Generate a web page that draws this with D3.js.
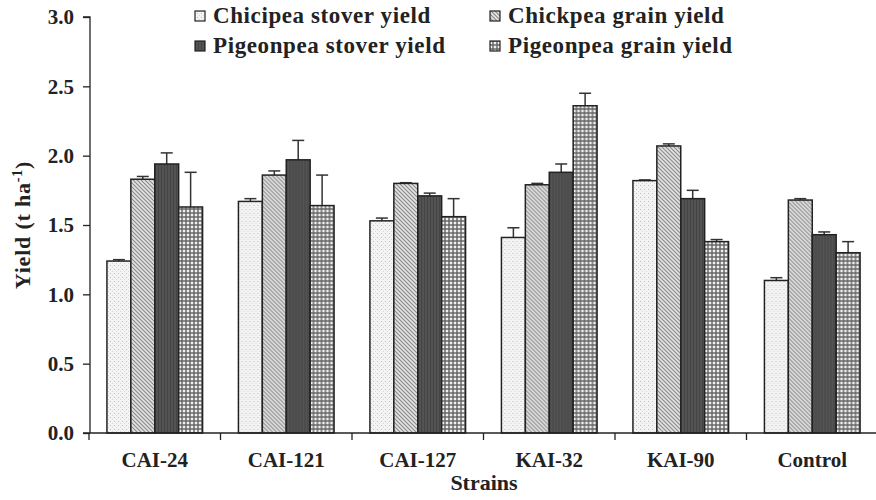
<!DOCTYPE html>
<html>
<head>
<meta charset="utf-8">
<script src="https://cdn.jsdelivr.net/npm/d3@7"></script>
<style>
  body { margin: 0; background: #fff; }
  text { font-family: "Liberation Serif", "Times New Roman", serif; font-weight: bold; fill: #222; }
</style>
</head>
<body>
<div id="chart"></div>
<script>
const strains = ["CAI-24", "CAI-121", "CAI-127", "KAI-32", "KAI-90", "Control"];
const seriesNames = ["Chicipea stover yield", "Chickpea grain yield", "Pigeonpea stover yield", "Pigeonpea grain yield"];
const chickpeaStover = [1.24, 1.67, 1.53, 1.41, 1.82, 1.10];
const chickpeaGrain = [1.83, 1.86, 1.80, 1.79, 2.07, 1.68];
const pigeonpeaStover = [1.94, 1.97, 1.71, 1.88, 1.69, 1.43];
const pigeonpeaGrain = [1.63, 1.64, 1.56, 2.36, 1.38, 1.30];
const errChickpeaStover = [0.01, 0.02, 0.02, 0.07, 0.005, 0.02];
const errChickpeaGrain = [0.02, 0.03, 0.005, 0.01, 0.015, 0.01];
const errPigeonpeaStover = [0.08, 0.14, 0.02, 0.06, 0.06, 0.02];
const errPigeonpeaGrain = [0.25, 0.22, 0.13, 0.09, 0.015, 0.08];
const yTicks = [0, 0.5, 1.0, 1.5, 2.0, 2.5, 3.0];

const values = [chickpeaStover, chickpeaGrain, pigeonpeaStover, pigeonpeaGrain];
const errors = [errChickpeaStover, errChickpeaGrain, errPigeonpeaStover, errPigeonpeaGrain];

const w = 876, h = 500;
const m = {top: 17, right: 0, bottom: 67, left: 90};

const svg = d3.select("#chart").append("svg")
  .attr("width", w).attr("height", h);

// fill patterns
const defs = svg.append("defs");
const pDots = defs.append("pattern").attr("id", "p0")
  .attr("width", 4).attr("height", 4).attr("patternUnits", "userSpaceOnUse");
pDots.append("rect").attr("width", 4).attr("height", 4).attr("fill", "#f4f4f4");
pDots.append("rect").attr("x", 1).attr("y", 1).attr("width", 1).attr("height", 1).attr("fill", "#bcbcbc");
pDots.append("rect").attr("x", 3).attr("y", 3).attr("width", 1).attr("height", 1).attr("fill", "#d6d6d6");

const pDiag = defs.append("pattern").attr("id", "p1")
  .attr("width", 4).attr("height", 4).attr("patternUnits", "userSpaceOnUse");
pDiag.append("rect").attr("width", 4).attr("height", 4).attr("fill", "#e2e2e2");
pDiag.append("path").attr("d", "M-1,-1 L5,5 M-1,3 L1,5 M3,-1 L5,1")
  .attr("stroke", "#8a8a8a").attr("stroke-width", 1.1);

const pDark = defs.append("pattern").attr("id", "p2")
  .attr("width", 3).attr("height", 3).attr("patternUnits", "userSpaceOnUse");
pDark.append("rect").attr("width", 3).attr("height", 3).attr("fill", "#535353");
pDark.append("rect").attr("x", 0).attr("y", 0).attr("width", 1).attr("height", 3).attr("fill", "#444");

const pGrid = defs.append("pattern").attr("id", "p3")
  .attr("width", 4).attr("height", 4).attr("patternUnits", "userSpaceOnUse");
pGrid.append("rect").attr("width", 4).attr("height", 4).attr("fill", "#f0f0f0");
pGrid.append("rect").attr("x", 0).attr("y", 0).attr("width", 2).attr("height", 4).attr("fill", "#8c8c8c");
pGrid.append("rect").attr("x", 0).attr("y", 0).attr("width", 4).attr("height", 2).attr("fill", "#8c8c8c");
pGrid.append("rect").attr("x", 0).attr("y", 0).attr("width", 2).attr("height", 2).attr("fill", "#6e6e6e");

const x0 = d3.scaleBand().domain(strains).range([m.left - 1, w - m.right + 2]).paddingInner(0);
const x1 = d3.scaleBand().domain(d3.range(4)).range([0, x0.bandwidth()]).paddingOuter(0.75).paddingInner(0);
const y = d3.scaleLinear().domain([0, 3]).range([h - m.bottom, m.top]);

// bars
const groups = svg.append("g").selectAll("g").data(strains).join("g")
  .attr("transform", d => `translate(${x0(d)},0)`);

groups.each(function(s, i) {
  const g = d3.select(this);
  d3.range(4).forEach(k => {
    const v = values[k][i], e = errors[k][i];
    const cx = x1(k) + x1.bandwidth() / 2;
    g.append("line")
      .attr("x1", cx).attr("x2", cx)
      .attr("y1", y(v)).attr("y2", y(v + e))
      .attr("stroke", "#333").attr("stroke-width", 1.5);
    g.append("line")
      .attr("x1", cx - 6).attr("x2", cx + 6)
      .attr("y1", y(v + e)).attr("y2", y(v + e))
      .attr("stroke", "#333").attr("stroke-width", 1.5);
    g.append("rect")
      .attr("x", x1(k)).attr("y", y(v))
      .attr("width", x1.bandwidth()).attr("height", y(0) - y(v))
      .attr("fill", `url(#p${k})`)
      .attr("stroke", "#222").attr("stroke-width", 1.5);
  });
});

// y axis
const yAxis = d3.axisLeft(y).tickValues(yTicks).tickFormat(d3.format(".1f")).tickSize(7).tickPadding(9);
svg.append("g")
  .attr("transform", `translate(${m.left},0)`)
  .call(yAxis)
  .call(g => g.selectAll("path, line").attr("stroke", "#222").attr("stroke-width", 1.3))
  .call(g => g.select(".domain").attr("d", `M-7,${y(3)}H0V${y(0)}`))
  .call(g => g.selectAll("text").attr("font-size", 21).attr("font-family", "Liberation Serif").attr("font-weight", "bold").attr("fill", "#222"));

// x axis
const xg = svg.append("g").attr("transform", `translate(0,${y(0)})`);
xg.append("line").attr("x1", m.left - 7).attr("x2", w).attr("y1", 0).attr("y2", 0)
  .attr("stroke", "#222").attr("stroke-width", 1.3);
xg.selectAll(".tk").data(strains).join("line")
  .attr("x1", d => x0(d)).attr("x2", d => x0(d))
  .attr("y1", 0).attr("y2", 7)
  .attr("stroke", "#222").attr("stroke-width", 1.3);
xg.selectAll(".lbl").data(strains).join("text")
  .attr("x", d => x0(d) + x0.bandwidth() / 2)
  .attr("y", 34)
  .attr("text-anchor", "middle")
  .attr("font-size", 21)
  .text(d => d);

svg.append("text")
  .attr("x", 484).attr("y", 490)
  .attr("text-anchor", "middle").attr("font-size", 22)
  .text("Strains");

svg.append("text")
  .attr("transform", `translate(30,${(y(0) + y(3)) / 2}) rotate(-90)`)
  .attr("text-anchor", "middle").attr("font-size", 22).attr("letter-spacing", 0.8)
  .html('Yield (t ha<tspan dy="-8" font-size="14">-1</tspan><tspan dy="8">)</tspan>');

// legend
const legendPos = [[195, 16], [490, 16], [195, 46], [490, 46]];
const legend = svg.append("g");
seriesNames.forEach((n, k) => {
  const [lx, ly] = legendPos[k];
  legend.append("rect")
    .attr("x", lx).attr("y", ly - 5).attr("width", 10).attr("height", 10)
    .attr("fill", `url(#p${k})`).attr("stroke", "#222").attr("stroke-width", 1.2);
  legend.append("text")
    .attr("x", lx + 18).attr("y", ly + 7)
    .attr("font-size", 23).attr("letter-spacing", 0.6)
    .text(n);
});
</script>
</body>
</html>
